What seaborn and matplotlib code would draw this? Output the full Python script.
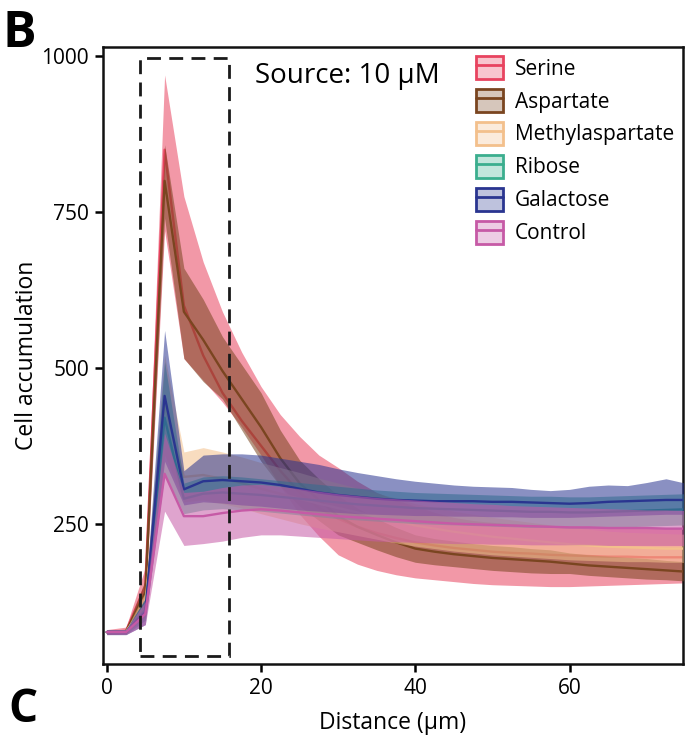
import numpy as np
import pandas as pd
import matplotlib
matplotlib.use("Agg")
import matplotlib.pyplot as plt
import seaborn as sns
from matplotlib.patches import Patch, Rectangle
from matplotlib.lines import Line2D
from matplotlib.colors import to_rgba

# ── data ──────────────────────────────────────────────────
distance = [0, 2.5, 5, 7.5, 10, 12.5, 15, 17.5, 20, 22.5, 25, 27.5, 30, 32.5, 35,
            37.5, 40, 42.5, 45, 47.5, 50, 52.5, 55, 57.5, 60, 62.5, 65, 67.5, 70, 72.5, 75]

serine_mean = [76, 78, 150, 850, 600, 520, 460, 415, 375, 335, 300, 275, 258, 245, 235,
               227, 220, 215, 211, 208, 205, 203, 202, 200, 199, 198, 197, 197, 196, 196, 196]
serine_lo   = [72, 73, 120, 720, 515, 480, 445, 405, 360, 310, 265, 230, 200, 185, 175,
               168, 163, 160, 157, 154, 152, 151, 150, 149, 149, 150, 151, 152, 153, 154, 155]
serine_hi   = [80, 84, 180, 970, 775, 670, 590, 525, 470, 425, 390, 360, 340, 318, 300,
               288, 278, 268, 260, 255, 252, 250, 248, 247, 246, 245, 245, 244, 244, 243, 243]

aspartate_mean = [76, 77, 140, 800, 590, 545, 495, 450, 405, 355, 315, 288, 262, 245, 232,
                  220, 210, 205, 201, 198, 195, 193, 191, 189, 186, 183, 181, 179, 177, 175, 173]
aspartate_lo   = [73, 74, 120, 740, 515, 478, 450, 400, 350, 310, 278, 255, 232, 220, 208,
                  197, 188, 184, 181, 178, 175, 173, 171, 170, 170, 167, 165, 163, 161, 160, 158]
aspartate_hi   = [79, 80, 160, 858, 660, 610, 550, 505, 460, 400, 352, 322, 295, 275, 258,
                  244, 232, 226, 222, 218, 215, 213, 210, 208, 203, 200, 198, 196, 194, 191, 189]

methyl_mean = [76, 77, 120, 440, 325, 328, 322, 315, 306, 298, 290, 282, 275, 268, 261,
               254, 247, 242, 237, 233, 229, 226, 223, 220, 217, 215, 213, 212, 211, 210, 210]
methyl_lo   = [73, 74, 100, 360, 285, 288, 282, 275, 266, 258, 250, 243, 237, 231, 225,
               219, 214, 210, 206, 203, 200, 198, 196, 194, 192, 191, 190, 189, 189, 188, 188]
methyl_hi   = [79, 80, 140, 520, 365, 372, 365, 357, 348, 340, 332, 323, 315, 307, 299,
               291, 282, 276, 270, 265, 260, 256, 252, 248, 244, 241, 238, 236, 235, 234, 233]

ribose_mean = [76, 76, 112, 420, 290, 298, 300, 298, 296, 293, 290, 287, 284, 281, 279,
               277, 275, 274, 273, 272, 271, 270, 269, 269, 268, 268, 269, 270, 271, 272, 273]
ribose_lo   = [72, 72, 95, 330, 266, 272, 274, 272, 270, 267, 264, 261, 258, 256, 254,
               252, 250, 249, 248, 247, 246, 245, 244, 244, 243, 243, 244, 245, 246, 247, 248]
ribose_hi   = [80, 80, 130, 510, 315, 325, 327, 325, 322, 319, 316, 313, 310, 307, 304,
               302, 300, 299, 298, 297, 296, 295, 294, 294, 293, 293, 294, 295, 296, 297, 298]

galactose_mean = [76, 76, 108, 455, 305, 318, 320, 318, 316, 312, 306, 300, 296, 293, 290,
                  288, 287, 286, 286, 286, 285, 285, 284, 283, 282, 283, 285, 286, 287, 288, 288]
galactose_lo   = [72, 72, 88, 350, 280, 285, 283, 280, 278, 275, 272, 270, 268, 266, 265,
                  264, 263, 263, 262, 262, 261, 261, 260, 260, 260, 261, 262, 263, 264, 265, 265]
galactose_hi   = [80, 80, 130, 560, 335, 360, 362, 362, 360, 355, 350, 345, 338, 332, 327,
                  322, 318, 315, 312, 310, 309, 308, 305, 303, 305, 310, 312, 311, 316, 322, 315]

control_mean = [76, 76, 105, 330, 262, 262, 267, 271, 273, 271, 268, 265, 262, 260, 258,
                256, 254, 252, 250, 249, 248, 247, 246, 245, 244, 244, 243, 243, 243, 242, 242]
control_lo   = [72, 72, 88, 270, 215, 218, 222, 228, 232, 232, 230, 228, 226, 224, 222,
                221, 220, 219, 218, 218, 217, 217, 216, 216, 216, 216, 215, 215, 215, 215, 215]
control_hi   = [80, 80, 125, 395, 300, 302, 308, 312, 313, 310, 306, 302, 298, 295, 292,
                290, 288, 286, 284, 282, 281, 279, 278, 277, 276, 275, 274, 273, 272, 272, 271]

names  = ["Serine", "Aspartate", "Methylaspartate", "Ribose", "Galactose", "Control"]
colors = ["#E8435F", "#7A4520", "#F3C08C", "#3BAE8E", "#2A3590", "#C65AA6"]
means  = [serine_mean, aspartate_mean, methyl_mean, ribose_mean, galactose_mean, control_mean]
lows   = [serine_lo, aspartate_lo, methyl_lo, ribose_lo, galactose_lo, control_lo]
highs  = [serine_hi, aspartate_hi, methyl_hi, ribose_hi, galactose_hi, control_hi]

df = pd.concat([pd.DataFrame({"Distance": distance, "Cells": m, "lo": lo, "hi": hi, "Source": n})
                for n, m, lo, hi in zip(names, means, lows, highs)], ignore_index=True)

# ── plot ──────────────────────────────────────────────────
sns.set_style("ticks")
plt.rcParams["font.family"] = ["Open Sans", "DejaVu Sans"]
plt.rcParams["text.color"] = "black"
plt.rcParams["axes.labelcolor"] = "black"
plt.rcParams["xtick.color"] = "black"
plt.rcParams["ytick.color"] = "black"

fig = plt.figure(figsize=(6.86, 7.36), dpi=100)
ax = fig.add_axes([0.150, 0.098, 0.8455, 0.8383])

for i, (n, c) in enumerate(zip(names, colors)):
    sub = df[df["Source"] == n]
    ax.fill_between(sub["Distance"], sub["lo"], sub["hi"], color=c, alpha=0.55,
                    lw=0, zorder=1 + 2 * i)
    sns.lineplot(data=sub, x="Distance", y="Cells", color=c, lw=1.7,
                 errorbar=None, legend=False, ax=ax, zorder=2 + 2 * i)

ax.add_patch(Rectangle((4.3, 37), 11.5, 960, fill=False, ec="#1a1a1a", lw=2,
                       ls=(0, (5, 3)), zorder=20))

ax.set_xlim(-0.5, 74.7)
ax.set_ylim(25, 1015)
ax.set_xticks([0, 20, 40, 60])
ax.set_yticks([250, 500, 750, 1000])
ax.tick_params(labelsize=15, width=1.8, length=6, pad=4)
for s in ax.spines.values():
    s.set_linewidth(1.8)
    s.set_color("#111")
ax.set_xlabel("Distance (µm)", fontsize=16.5, labelpad=9)
ax.set_ylabel("Cell accumulation", fontsize=16.5, labelpad=2)

ax.text(0.262, 0.975, "Source: 10 µM", transform=ax.transAxes, fontsize=20,
        ha="left", va="top")

handles = [(Patch(facecolor=to_rgba(c, 0.3), edgecolor=c, lw=2),
            Line2D([], [], color=c, lw=2)) for c in colors]
ax.legend(handles, names, loc="upper left", bbox_to_anchor=(0.622, 1.005),
          frameon=False, fontsize=15, handlelength=1.3, handleheight=1.3,
          labelspacing=0.46, handletextpad=0.55, borderaxespad=0.2)

fig.text(0.003, 0.988, "B", fontsize=36, fontweight="bold", va="top", ha="left")
fig.text(0.012, 0.004, "C", fontsize=33, fontweight="bold", va="bottom", ha="left")

plt.savefig("out.png", dpi=100)
plt.close()
